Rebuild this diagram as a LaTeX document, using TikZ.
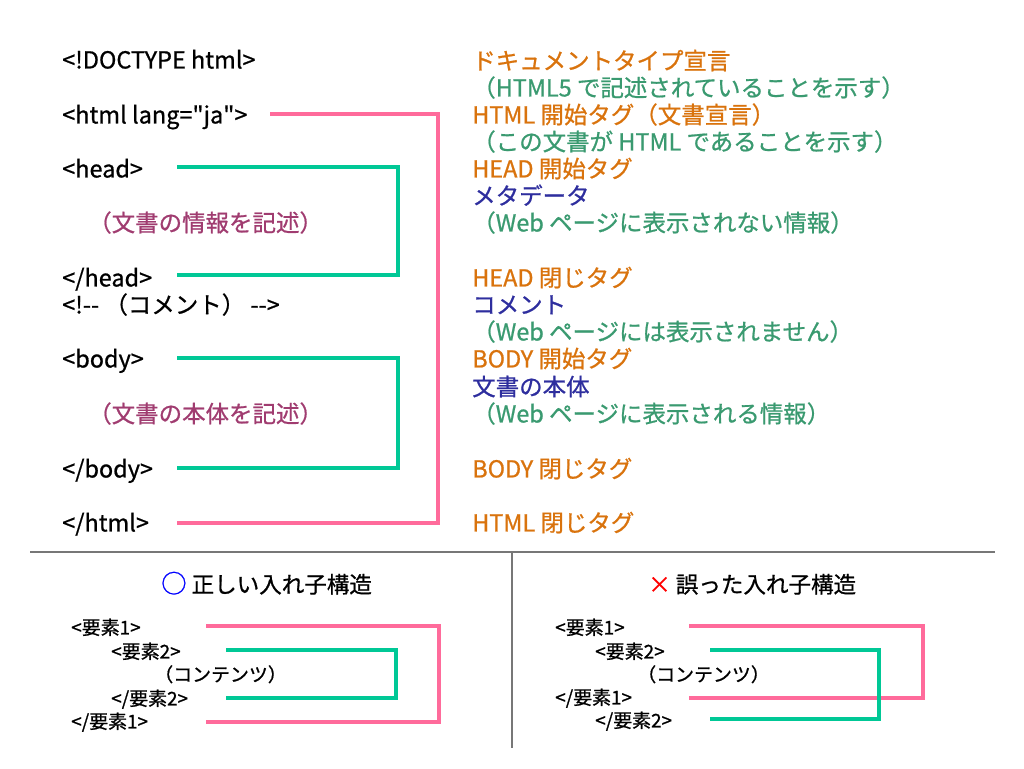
\documentclass[tikz,border=0pt]{standalone}
\usepackage{fontspec}
\setmainfont{Noto Sans CJK JP}[Ligatures=TeXOff,FakeBold=0.8]
\definecolor{tagorange}{HTML}{D9730D}
\definecolor{notegreen}{HTML}{3A9A70}
\definecolor{navy}{HTML}{2E2E9E}
\definecolor{plum}{HTML}{A03C70}
\definecolor{pinkline}{HTML}{FF6B9B}
\definecolor{greenline}{HTML}{00C896}
\definecolor{sepgray}{HTML}{777777}
\begin{document}
\begin{tikzpicture}[x=0.75pt,y=-0.75pt,
  txt/.style={anchor=base west,inner sep=0pt,yshift=-7.1pt,font=\fontsize{17.6}{20}\selectfont},
  code/.style={txt,text=black},
  tag/.style={txt,text=tagorange},
  note/.style={txt,text=notegreen},
  meta/.style={txt,text=navy},
  desc/.style={txt,text=plum},
  small/.style={anchor=base west,inner sep=0pt,yshift=-5.6pt,font=\fontsize{14.2}{16}\selectfont,text=black},
  ttl/.style={anchor=base west,inner sep=0pt,yshift=-6.6pt,font=\fontsize{16.9}{19}\selectfont,text=black},
  pk/.style={draw=pinkline,line width=2.3pt},
  gr/.style={draw=greenline,line width=2.3pt},
  sep/.style={draw=sepgray,line width=1.5pt}]
\useasboundingbox (0,0) rectangle (1024,768);

% left code column
\node[code] (doctype) at (62,59) {<!DOCTYPE html>};
\node[code] (htmlo) at (62,114) {<html lang="ja">};
\node[code] (heado) at (62,168) {<head>};
\node[desc] (headd) at (88,222) {（文書の情報を記述）};
\node[code] (headc) at (62,277) {</head>};
\node[code] (comm) at (62,304) {<!-- （コメント） -->};
\node[code] (bodyo) at (62,358) {<body>};
\node[desc] (bodyd) at (88,413) {（文書の本体を記述）};
\node[code] (bodyc) at (62,468) {</body>};
\node[code] (htmlc) at (62,522) {</html>};

% right description column
\node[tag] (r1) at (472,60) {ドキュメントタイプ宣言};
\node[note] (r2) at (472,87) {（HTML5 で記述されていることを示す）};
\node[tag] (r3) at (472,114) {HTML 開始タグ（文書宣言）};
\node[note] (r4) at (472,141) {（この文書が HTML であることを示す）};
\node[tag] (r5) at (472,168) {HEAD 開始タグ};
\node[meta] (r6) at (472,195) {メタデータ};
\node[note] (r7) at (472,222) {（Web ページに表示されない情報）};
\node[tag] (r8) at (472,277) {HEAD 閉じタグ};
\node[meta] (r9) at (472,304) {コメント};
\node[note] (r10) at (472,331) {（Web ページには表示されません）};
\node[tag] (r11) at (472,358) {BODY 開始タグ};
\node[meta] (r12) at (472,386) {文書の本体};
\node[note] (r13) at (472,413) {（Web ページに表示される情報）};
\node[tag] (r14) at (472,468) {BODY 閉じタグ};
\node[tag] (r15) at (472,522) {HTML 閉じタグ};

% brackets top
\coordinate (hA) at (270,114);
\coordinate (hC) at (438,523);
\coordinate (hB) at (177,523);
\draw[pk] (hA) -| (hC) -- (hB);
\coordinate (dA) at (177,167);
\coordinate (dC) at (398,275);
\coordinate (dB) at (177,275);
\draw[gr] (dA) -| (dC) -- (dB);
\coordinate (bA) at (177,358);
\coordinate (bC) at (398,468);
\coordinate (bB) at (177,468);
\draw[gr] (bA) -| (bC) -- (bB);

% separators
\coordinate (sL) at (30,552);
\coordinate (sR) at (995,552);
\coordinate (sM) at (512,552);
\coordinate (sD) at (512,748);
\draw[sep] (sL) -- (sR);
\draw[sep] (sM) -- (sD);

% bottom left
\node[ttl] (tL) at (161,584) {\textcolor{blue}{\fontsize{19}{19}\selectfont ○} 正しい入れ子構造};
\node[small] (l1) at (71,627) {<要素1>};
\node[small] (l2) at (111,651) {<要素2>};
\node[small] (l3) at (154,674) {（コンテンツ）};
\node[small] (l4) at (111,698) {</要素2>};
\node[small] (l5) at (71,721) {</要素1>};
\coordinate (lpA) at (206,626);
\coordinate (lpC) at (439,722);
\coordinate (lpB) at (206,722);
\draw[pk] (lpA) -| (lpC) -- (lpB);
\coordinate (lgA) at (226,650);
\coordinate (lgC) at (396,698);
\coordinate (lgB) at (226,698);
\draw[gr] (lgA) -| (lgC) -- (lgB);

% bottom right
\node[ttl] (tR) at (648,584) {\textcolor{red}{×} 誤った入れ子構造};
\node[small] (m1) at (555,627) {<要素1>};
\node[small] (m2) at (595,651) {<要素2>};
\node[small] (m3) at (637,674) {（コンテンツ）};
\node[small] (m4) at (555,697) {</要素1>};
\node[small] (m5) at (595,720) {</要素2>};
\coordinate (rpA) at (689,626);
\coordinate (rpC) at (923,698);
\coordinate (rpB) at (689,698);
\draw[pk] (rpA) -| (rpC) -- (rpB);
\coordinate (rgA) at (710,650);
\coordinate (rgC) at (879,719);
\coordinate (rgB) at (710,719);
\draw[gr] (rgA) -| (rgC) -- (rgB);
\end{tikzpicture}
\end{document}
